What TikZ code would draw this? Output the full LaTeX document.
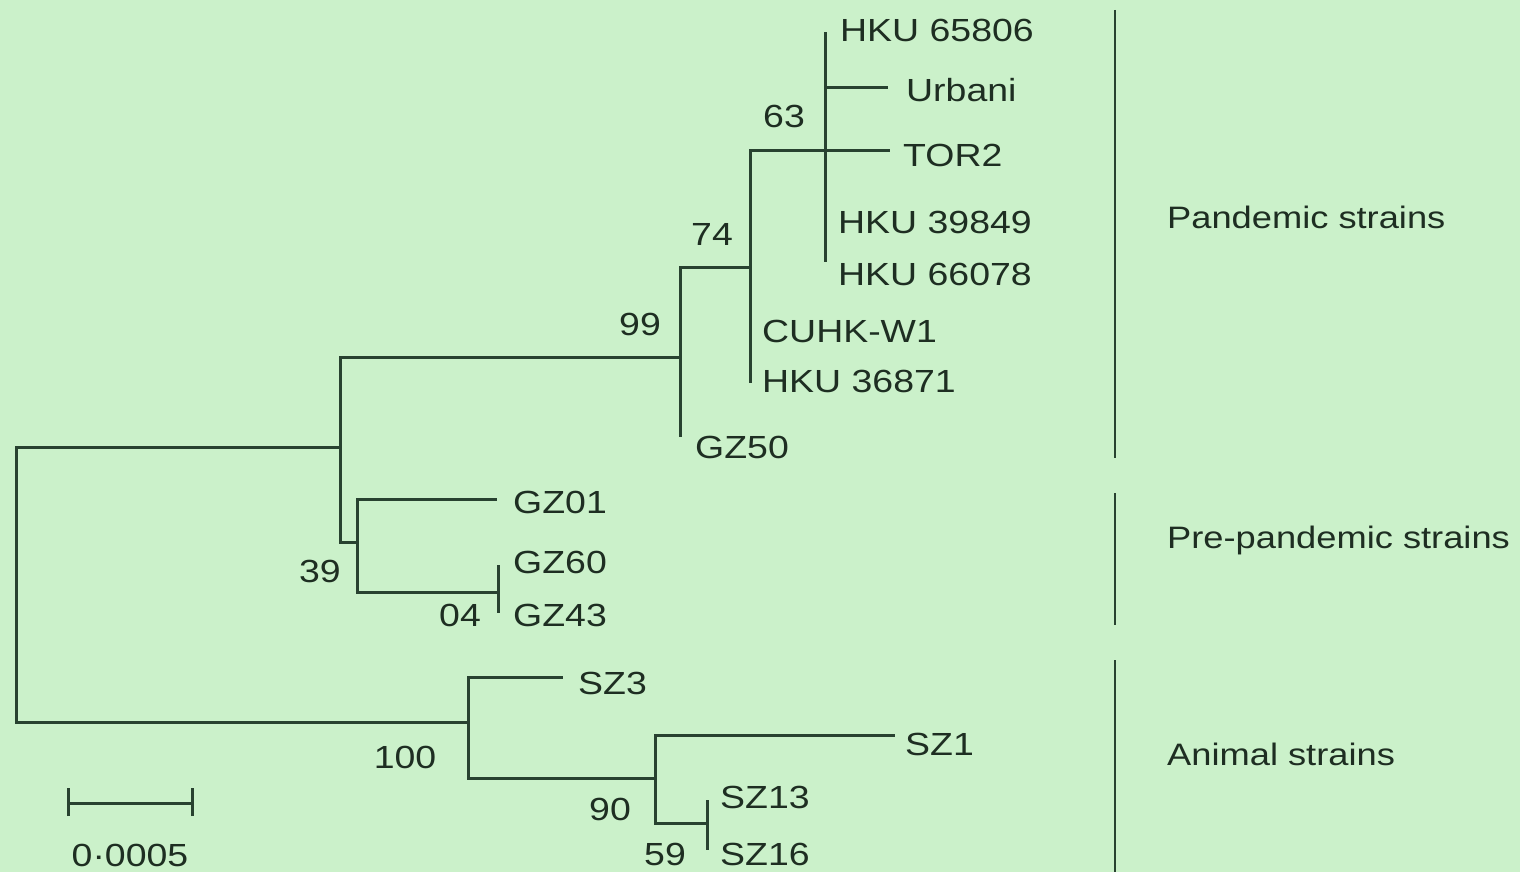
\documentclass[tikz,border=0pt]{standalone}
\usepackage{fontspec}
\setmainfont[FakeStretch=1.17]{Liberation Sans}
\definecolor{bg}{RGB}{203,241,202}
\definecolor{ln}{RGB}{40,66,48}
\definecolor{tx}{RGB}{30,46,34}
\begin{document}
\begin{tikzpicture}[x=1pt,y=-1pt,
  br/.style={draw=ln,line width=3pt},
  grp/.style={draw=ln,line width=2.6pt},
  lab/.style={anchor=base west,inner sep=0pt,text=tx,font=\fontsize{32}{38}\selectfont},
  glab/.style={anchor=base west,inner sep=0pt,text=tx,font=\fontsize{31}{37}\selectfont},
  num/.style={anchor=base,inner sep=0pt,text=tx,font=\fontsize{32}{38}\selectfont}]
\fill[bg] (0,0) rectangle (1520,872);
\useasboundingbox (0,0) rectangle (1520,872);
% internal nodes
\coordinate (r) at (16,585);
\coordinate (n340) at (340,447);
\coordinate (n357) at (357,542);
\coordinate (n498) at (498,592);
\coordinate (n680) at (680,357);
\coordinate (n750) at (750,267);
\coordinate (n825) at (825,150);
\coordinate (n468) at (468,722);
\coordinate (n655) at (655,778);
\coordinate (n707) at (707,823);
% tips
\coordinate (t65806) at (825,32);
\coordinate (tUrb) at (888,88);
\coordinate (tTOR) at (890,150);
\coordinate (t66078) at (825,262);
\coordinate (t36871) at (750,383);
\coordinate (tGZ50) at (680,437);
\coordinate (tGZ01) at (497,499);
\coordinate (tGZ60) at (498,565);
\coordinate (tGZ43) at (498,613);
\coordinate (tSZ3) at (563,677);
\coordinate (tSZ1) at (895,735);
\coordinate (tSZ13) at (707,800);
\coordinate (tSZ16) at (707,850);
% branches
\draw[br] (r) |- (n340);
\draw[br] (r) |- (n468);
\draw[br] (n340) |- (n680);
\draw[br] (n340) |- (n357);
\draw[br] (n357) |- (tGZ01);
\draw[br] (n357) |- (n498);
\draw[br] (n498) -- (tGZ60);
\draw[br] (n498) -- (tGZ43);
\draw[br] (n680) |- (n750);
\draw[br] (n680) -- (tGZ50);
\draw[br] (n750) |- (n825);
\draw[br] (n750) -- (t36871);
\draw[br] (n825) -- (tTOR);
\draw[br] (n825) -- (t65806);
\draw[br] (n825) -- (t66078);
\draw[br] (n825) |- (tUrb);
\draw[br] (n468) |- (tSZ3);
\draw[br] (n468) |- (n655);
\draw[br] (n655) |- (tSZ1);
\draw[br] (n655) |- (n707);
\draw[br] (n707) -- (tSZ13);
\draw[br] (n707) -- (tSZ16);
% leaf labels
\node[lab] (l1) at (840,42) {HKU 65806};
\node[lab] (l2) at (906,102) {Urbani};
\node[lab] (l3) at (903,166) {TOR2};
\node[lab] (l4) at (838,233) {HKU 39849};
\node[lab] (l5) at (838,285) {HKU 66078};
\node[lab] (l6) at (762,342) {CUHK-W1};
\node[lab] (l7) at (762,392) {HKU 36871};
\node[lab] (l8) at (695,458) {GZ50};
\node[lab] (l9) at (513,513) {GZ01};
\node[lab] (l10) at (513,573) {GZ60};
\node[lab] (l11) at (513,626) {GZ43};
\node[lab] (l12) at (578,694) {SZ3};
\node[lab] (l13) at (905,755) {SZ1};
\node[lab] (l14) at (720,808) {SZ13};
\node[lab] (l15) at (720,865) {SZ16};
% bootstrap values
\node[num] (b63) at (784,128) {63};
\node[num] (b74) at (712,245) {74};
\node[num] (b99) at (640,335) {99};
\node[num] (b39) at (320,582) {39};
\node[num] (b04) at (460,626) {04};
\node[num] (b100) at (405,768) {100};
\node[num] (b90) at (610,820) {90};
\node[num] (b59) at (665,865) {59};
% scale bar
\coordinate (s1) at (68,803);
\coordinate (s2) at (192,803);
\draw[br] (s1) -- (s2);
\draw[br] ([yshift=-13pt]s1) -- ([yshift=15pt]s1);
\draw[br] ([yshift=-13pt]s2) -- ([yshift=15pt]s2);
\node[num] (sc) at (130,866) {0·0005};
% group bars
\coordinate (g1a) at (1115,10);  \coordinate (g1b) at (1115,458);
\coordinate (g2a) at (1115,493); \coordinate (g2b) at (1115,625);
\coordinate (g3a) at (1115,660); \coordinate (g3b) at (1115,872);
\draw[grp] (g1a) -- (g1b);
\draw[grp] (g2a) -- (g2b);
\draw[grp] (g3a) -- (g3b);
\node[glab] (p1) at (1167,228) {Pandemic strains};
\node[glab] (p2) at (1167,548) {Pre-pandemic strains};
\node[glab] (p3) at (1167,765) {Animal strains};
\end{tikzpicture}
\end{document}
